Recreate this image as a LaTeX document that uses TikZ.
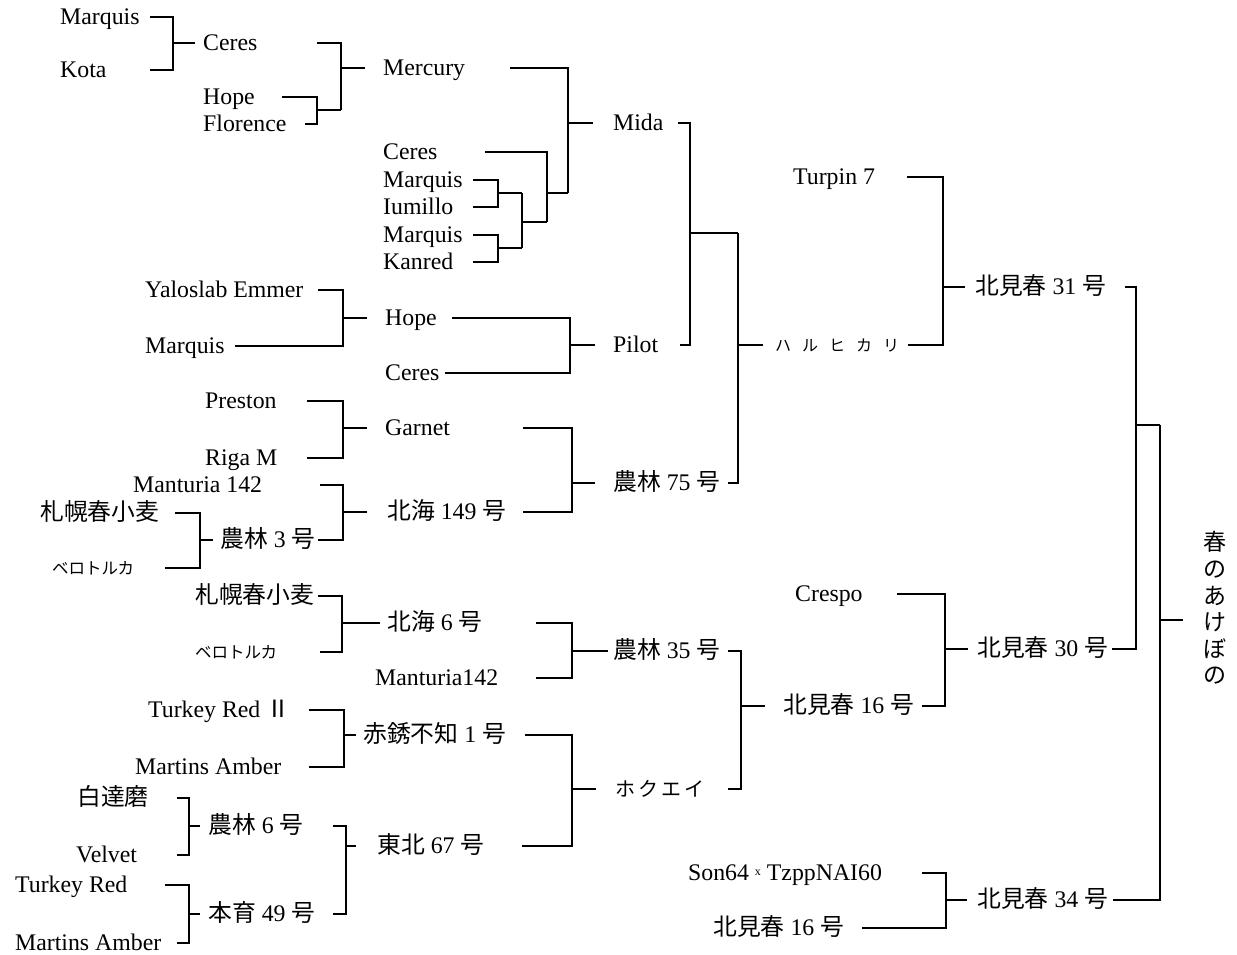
\documentclass[tikz,border=0pt]{standalone}
\usepackage{fontspec}
\setmainfont{Liberation Serif}
\newfontfamily\jpfont{Noto Sans CJK JP}
\newcommand\jp[1]{{\jpfont #1}}
\begin{document}
\begin{tikzpicture}[x=1pt,y=-1pt,
  lbl/.style={anchor=west, inner sep=0pt, text height=15.8pt, text depth=0pt, font=\fontsize{23.8}{28}\selectfont},
  kana/.style={font=\jpfont\fontsize{16.5}{19}\selectfont, text height=13pt},
  ln/.style={line width=1.4pt}]
\useasboundingbox (0,0) rectangle (1237,955);
% ---------- nodes ----------
\node[lbl] (marquisA) at (60,17) {Marquis};
\node[lbl] (kota) at (60,70) {Kota};
\node[lbl] (ceresA) at (203,43) {Ceres};
\node[lbl] (hopeA) at (203,97) {Hope};
\node[lbl] (florence) at (203,124) {Florence};
\node[lbl] (mercury) at (383,68) {Mercury};
\node[lbl] (ceresB) at (383,152) {Ceres};
\node[lbl] (marquisB) at (383,180) {Marquis};
\node[lbl] (iumillo) at (383,207) {Iumillo};
\node[lbl] (marquisC) at (383,235) {Marquis};
\node[lbl] (kanred) at (383,262) {Kanred};
\node[lbl] (mida) at (613,123) {Mida};
\node[lbl] (yaloslab) at (145,290) {Yaloslab Emmer};
\node[lbl] (marquisD) at (145,346) {Marquis};
\node[lbl] (hopeB) at (385,318) {Hope};
\node[lbl] (ceresC) at (385,373) {Ceres};
\node[lbl] (pilot) at (613,345) {Pilot};
\node[lbl] (preston) at (205,401) {Preston};
\node[lbl] (riga) at (205,458) {Riga M};
\node[lbl] (garnet) at (385,428) {Garnet};
\node[lbl] (manturiaA) at (133,485) {Manturia 142};
\node[lbl] (sapporoA) at (40,513) {\jp{札幌春小麦}};
\node[lbl,kana] (berotorukaA) at (52,568) {ベロトルカ};
\node[lbl] (norin3) at (220,540) {\jp{農林} 3 \jp{号}};
\node[lbl] (hokkai149) at (387,512) {\jp{北海} 149 \jp{号}};
\node[lbl] (norin75) at (613,483) {\jp{農林} 75 \jp{号}};
\node[lbl] (sapporoB) at (195,596) {\jp{札幌春小麦}};
\node[lbl,kana] (berotorukaB) at (195,652) {ベロトルカ};
\node[lbl] (hokkai6) at (387,623) {\jp{北海} 6 \jp{号}};
\node[lbl] (manturiaB) at (375,678) {Manturia142};
\node[lbl] (norin35) at (613,651) {\jp{農林} 35 \jp{号}};
\node[lbl] (turkeyRed2) at (148,710) {Turkey Red \jp{Ⅱ}};
\node[lbl] (martinsA) at (135,767) {Martins Amber};
\node[lbl] (sekishu) at (363,735) {\jp{赤銹不知} 1 \jp{号}};
\node[lbl] (shirodaruma) at (77,798) {\jp{白達磨}};
\node[lbl] (velvet) at (76,855) {Velvet};
\node[lbl] (norin6) at (208,826) {\jp{農林} 6 \jp{号}};
\node[lbl] (turkeyRed) at (15,885) {Turkey Red};
\node[lbl] (martinsB) at (15,943) {Martins Amber};
\node[lbl] (hon49) at (208,914) {\jp{本育} 49 \jp{号}};
\node[lbl] (tohoku67) at (377,846) {\jp{東北} 67 \jp{号}};
\node[lbl,font=\jpfont\fontsize{20}{24}\selectfont] (hokuei) at (615,789) {ホ\hspace{3pt}ク\hspace{3pt}エ\hspace{3pt}イ};
\node[lbl,kana,font=\jpfont\fontsize{16}{19}\selectfont] (haruhikari) at (775,345) {ハ\hspace{11pt}ル\hspace{11pt}ヒ\hspace{11pt}カ\hspace{11pt}リ};
\node[lbl] (turpin) at (793,177) {Turpin 7};
\node[lbl] (kitami31) at (975,287) {\jp{北見春} 31 \jp{号}};
\node[lbl] (crespo) at (795,594) {Crespo};
\node[lbl] (kitami16A) at (783,706) {\jp{北見春} 16 \jp{号}};
\node[lbl] (kitami30) at (977,649) {\jp{北見春} 30 \jp{号}};
\node[lbl] (son64) at (688,873) {Son64 \raisebox{0.45ex}{\fontsize{12}{14}\selectfont x} TzppNAI60};
\node[lbl] (kitami16B) at (713,928) {\jp{北見春} 16 \jp{号}};
\node[lbl] (kitami34) at (977,900) {\jp{北見春} 34 \jp{号}};
\node[inner sep=0pt, align=center, font=\jpfont\fontsize{23}{26.6}\selectfont] (haru) at (1215,608) {春\\の\\あ\\け\\ぼ\\の};
% ---------- connectors ----------
% Marquis x Kota -> Ceres
\draw[ln] (marquisA -| 150,0) -| (kota -| 173,0) -- (kota -| 150,0);
\draw[ln] (ceresA -| 173,0) -- (ceresA -| 195,0);
% Hope x Florence
\coordinate (jHF) at (341,110);
\draw[ln] (hopeA -| 282,0) -| (florence -| 317,0) -- (florence -| 305,0);
\draw[ln] (jHF -| 317,0) -- (jHF);
% -> Mercury
\draw[ln] (ceresA -| 317,0) -| (jHF);
\draw[ln] (mercury -| 341,0) -- (mercury -| 365,0);
% Marquis x Iumillo, Marquis x Kanred
\coordinate (j1) at (522,193);
\draw[ln] (marquisB -| 473,0) -| (iumillo -| 498,0) -- (iumillo -| 473,0);
\draw[ln] (j1 -| 498,0) -- (j1);
\coordinate (j2) at (522,248);
\draw[ln] (marquisC -| 473,0) -| (kanred -| 498,0) -- (kanred -| 473,0);
\draw[ln] (j2 -| 498,0) -- (j2);
\coordinate (j3) at (547,222);
\draw[ln] (j1) -- (j2);
\draw[ln] (j3 -| 522,0) -- (j3);
\coordinate (j4) at (568,193);
\draw[ln] (ceresB -| 485,0) -| (j3);
\draw[ln] (j4 -| 547,0) -- (j4);
% -> Mida
\draw[ln] (mercury -| 510,0) -| (j4);
\draw[ln] (mida -| 568,0) -- (mida -| 593,0);
% Yaloslab Emmer x Marquis -> Hope
\draw[ln] (yaloslab -| 318,0) -| (marquisD -| 343,0) -- (marquisD -| 235,0);
\draw[ln] (hopeB -| 343,0) -- (hopeB -| 367,0);
% Hope x Ceres -> Pilot
\draw[ln] (hopeB -| 452,0) -| (ceresC -| 570,0) -- (ceresC -| 445,0);
\draw[ln] (pilot -| 570,0) -- (pilot -| 595,0);
% Mida x Pilot
\coordinate (j5) at (738,233);
\draw[ln] (mida -| 678,0) -| (pilot -| 690,0) -- (pilot -| 680,0);
\draw[ln] (j5 -| 690,0) -- (j5);
% Preston x Riga M -> Garnet
\draw[ln] (preston -| 307,0) -| (riga -| 343,0) -- (riga -| 307,0);
\draw[ln] (garnet -| 343,0) -- (garnet -| 367,0);
% Sapporo x Berotoruka -> Norin 3
\draw[ln] (sapporoA -| 175,0) -| (berotorukaA -| 200,0) -- (berotorukaA -| 165,0);
\draw[ln] (norin3 -| 200,0) -- (norin3 -| 213,0);
% Manturia 142 x Norin 3 -> Hokkai 149
\draw[ln] (manturiaA -| 320,0) -| (norin3 -| 343,0) -- (norin3 -| 318,0);
\draw[ln] (hokkai149 -| 343,0) -- (hokkai149 -| 367,0);
% Garnet x Hokkai 149 -> Norin 75
\draw[ln] (garnet -| 523,0) -| (hokkai149 -| 572,0) -- (hokkai149 -| 523,0);
\draw[ln] (norin75 -| 572,0) -- (norin75 -| 595,0);
% (Mida x Pilot) x Norin 75 -> Haruhikari
\draw[ln] (j5) |- (norin75 -| 728,0);
\draw[ln] (haruhikari -| 738,0) -- (haruhikari -| 763,0);
% Sapporo x Berotoruka -> Hokkai 6
\draw[ln] (sapporoB -| 318,0) -| (berotorukaB -| 342,0) -- (berotorukaB -| 320,0);
\draw[ln] (hokkai6 -| 342,0) -- (hokkai6 -| 380,0);
% Hokkai 6 x Manturia142 -> Norin 35
\draw[ln] (hokkai6 -| 536,0) -| (manturiaB -| 572,0) -- (manturiaB -| 536,0);
\draw[ln] (norin35 -| 572,0) -- (norin35 -| 608,0);
% Turkey Red II x Martins Amber -> Sekishu
\draw[ln] (turkeyRed2 -| 309,0) -| (martinsA -| 344,0) -- (martinsA -| 309,0);
\draw[ln] (sekishu -| 344,0) -- (sekishu -| 356,0);
% Shirodaruma x Velvet -> Norin 6
\draw[ln] (shirodaruma -| 177,0) -| (velvet -| 189,0) -- (velvet -| 177,0);
\draw[ln] (norin6 -| 189,0) -- (norin6 -| 200,0);
% Turkey Red x Martins Amber -> Hon-iku 49
\draw[ln] (turkeyRed -| 165,0) -| (martinsB -| 189,0) -- (martinsB -| 177,0);
\draw[ln] (hon49 -| 189,0) -- (hon49 -| 200,0);
% Norin 6 x Hon-iku 49 -> Tohoku 67
\draw[ln] (norin6 -| 333,0) -| (hon49 -| 346,0) -- (hon49 -| 333,0);
\draw[ln] (tohoku67 -| 346,0) -- (tohoku67 -| 356,0);
% Sekishu x Tohoku 67 -> Hokuei
\draw[ln] (sekishu -| 525,0) -| (tohoku67 -| 572,0) -- (tohoku67 -| 522,0);
\draw[ln] (hokuei -| 572,0) -- (hokuei -| 596,0);
% Norin 35 x Hokuei -> Kitami 16
\draw[ln] (norin35 -| 728,0) -| (hokuei -| 741,0) -- (hokuei -| 728,0);
\draw[ln] (kitami16A -| 741,0) -- (kitami16A -| 765,0);
% Turpin 7 x Haruhikari -> Kitami 31
\draw[ln] (turpin -| 907,0) -| (haruhikari -| 943,0) -- (haruhikari -| 908,0);
\draw[ln] (kitami31 -| 943,0) -- (kitami31 -| 965,0);
% Crespo x Kitami 16 -> Kitami 30
\draw[ln] (crespo -| 897,0) -| (kitami16A -| 945,0) -- (kitami16A -| 922,0);
\draw[ln] (kitami30 -| 945,0) -- (kitami30 -| 968,0);
% Son64 x Kitami 16 -> Kitami 34
\draw[ln] (son64 -| 922,0) -| (kitami16B -| 946,0) -- (kitami16B -| 862,0);
\draw[ln] (kitami34 -| 946,0) -- (kitami34 -| 967,0);
% Kitami 31 x Kitami 30
\coordinate (j6) at (1160,425);
\draw[ln] (kitami31 -| 1125,0) -| (kitami30 -| 1136,0) -- (kitami30 -| 1112,0);
\draw[ln] (j6 -| 1136,0) -- (j6);
% x Kitami 34 -> Haru no akebono
\coordinate (jH) at (1183,620);
\draw[ln] (j6) |- (kitami34 -| 1113,0);
\draw[ln] (jH -| 1160,0) -- (jH);
\end{tikzpicture}
\end{document}
